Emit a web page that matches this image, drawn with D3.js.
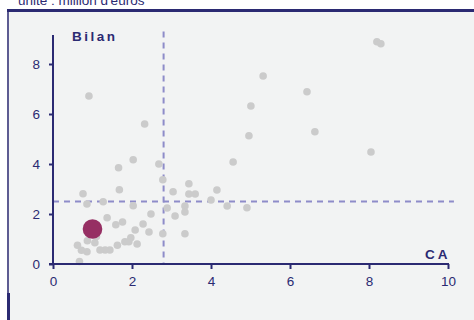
<!DOCTYPE html>
<html>
<head>
<meta charset="utf-8">
<script src="https://cdn.jsdelivr.net/npm/d3@7/dist/d3.min.js"></script>
<style>
  html, body { margin: 0; padding: 0; background: #ffffff; }
  svg { display: block; font-family: "Liberation Sans", Arial, sans-serif; }
</style>
</head>
<body>
<svg id="chart" width="474" height="320"></svg>
<script>
// Chiffre d'affaires (CA) et total de bilan, en millions d'euros
const caValues = [8.20, 8.30, 5.32, 6.43, 5.01, 4.96, 6.63, 8.05, 4.91, 0.91,
  2.32, 2.03, 4.56, 1.66, 2.68, 2.78, 1.68, 0.76, 0.86, 1.27,
  2.03, 3.04, 3.44, 3.44, 3.60, 4.15, 4.00, 4.41, 3.34, 3.34,
  2.89, 3.09, 2.48, 1.37, 1.59, 1.76, 2.28, 2.08, 2.43, 2.78,
  3.34, 1.97, 1.82, 1.92, 2.13, 1.63, 1.44, 1.32, 1.19, 1.06,
  0.87, 0.62, 0.72, 0.86, 0.67, 1.10];
const bilanValues = [8.89, 8.81, 7.52, 6.89, 6.32, 5.13, 5.29, 4.48, 2.25, 6.72,
  5.60, 4.17, 4.08, 3.85, 4.00, 3.37, 2.97, 2.81, 2.40, 2.49,
  2.33, 2.89, 3.21, 2.80, 2.80, 2.96, 2.56, 2.32, 2.32, 2.08,
  2.24, 1.92, 2.00, 1.85, 1.57, 1.68, 1.60, 1.36, 1.28, 1.21,
  1.21, 1.05, 0.89, 0.89, 0.80, 0.75, 0.56, 0.56, 0.56, 0.85,
  0.93, 0.75, 0.55, 0.49, 0.10, 1.10];
// Entreprise mise en évidence
const focusCA = [1.0];
const focusBilan = [1.4];
// Seuils (lignes pointillées)
const thresholdCA = [2.8];
const thresholdBilan = [2.5];
// Graduations
const xTicks = [0, 2, 4, 6, 8, 10];
const yTicks = [0, 2, 4, 6, 8];

const navy = "#2b2a72";
const svg = d3.select("#chart");

// cadre
svg.append("rect").attr("x", 7).attr("y", 9).attr("width", 467).attr("height", 311).attr("fill", "#f2f3f3");
svg.append("rect").attr("x", 7).attr("y", 9).attr("width", 467).attr("height", 3).attr("fill", navy);
svg.append("rect").attr("x", 7).attr("y", 9).attr("width", 2).attr("height", 284).attr("fill", navy).attr("opacity", 0.75);
svg.append("rect").attr("x", 7).attr("y", 293).attr("width", 3).attr("height", 27).attr("fill", navy);

svg.append("text").attr("x", 18).attr("y", 5)
  .attr("font-size", 13.5).attr("fill", navy)
  .text("unité : million d'euros");

const x = d3.scaleLinear().domain([0, 10]).range([53, 448]);
const y = d3.scaleLinear().domain([0, 8]).range([264, 64]);

// lignes de seuil
const dash = "6,5";
svg.append("line")
  .attr("x1", x(thresholdCA[0])).attr("x2", x(thresholdCA[0]))
  .attr("y1", y(9.3)).attr("y2", y(0))
  .attr("stroke", "#8e8cc9").attr("stroke-width", 2).attr("stroke-dasharray", dash);
svg.append("line")
  .attr("x1", x(0)).attr("x2", x(10.15))
  .attr("y1", y(thresholdBilan[0])).attr("y2", y(thresholdBilan[0]))
  .attr("stroke", "#8e8cc9").attr("stroke-width", 2).attr("stroke-dasharray", dash);

// points
const pts = caValues.map((v, i) => ({ ca: v, bilan: bilanValues[i] }));
svg.append("g").selectAll("circle").data(pts).join("circle")
  .attr("cx", d => x(d.ca)).attr("cy", d => y(d.bilan))
  .attr("r", 3.8).attr("fill", "#cbcbcb");

svg.append("g").selectAll("circle").data(focusCA).join("circle")
  .attr("cx", d => x(d)).attr("cy", (d, i) => y(focusBilan[i]))
  .attr("r", 9.8).attr("fill", "#962f63");

// axes
const yAxis = svg.append("g").attr("transform", `translate(${x(0)},0)`)
  .call(d3.axisLeft(y).tickValues(yTicks).tickSize(4).tickPadding(9));
const xAxis = svg.append("g").attr("transform", `translate(0,${y(0)})`)
  .call(d3.axisBottom(x).tickValues(xTicks).tickSize(5).tickPadding(7));
[yAxis, xAxis].forEach(g => {
  g.select(".domain").remove();
  g.selectAll(".tick line").attr("stroke", navy).attr("stroke-width", 2);
  g.selectAll(".tick text").attr("fill", navy).attr("font-size", 13.5)
    .attr("font-family", "'Liberation Sans', Arial, sans-serif");
});
svg.append("line").attr("x1", x(0)).attr("x2", x(0)).attr("y1", y(0) + 1).attr("y2", y(9.16))
  .attr("stroke", navy).attr("stroke-width", 2);
svg.append("line").attr("x1", x(0) - 4).attr("x2", x(10) + 1).attr("y1", y(0)).attr("y2", y(0))
  .attr("stroke", navy).attr("stroke-width", 2);

// titres des axes
svg.append("text").attr("x", 72).attr("y", 41)
  .attr("font-size", 13.5).attr("font-weight", "bold").attr("letter-spacing", 2.5)
  .attr("fill", navy).text("Bilan");
svg.append("text").attr("x", 425).attr("y", 259)
  .attr("font-size", 13.5).attr("font-weight", "bold").attr("letter-spacing", 3)
  .attr("fill", navy).text("CA");
</script>
</body>
</html>
